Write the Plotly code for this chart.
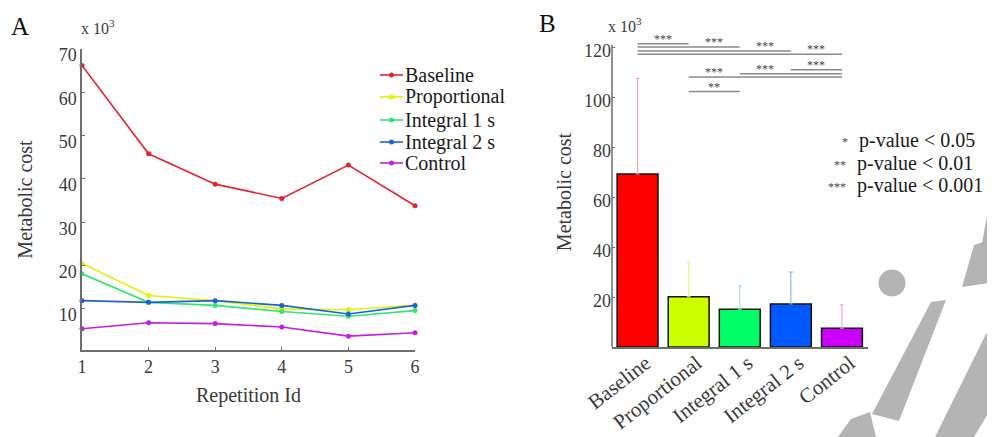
import plotly.graph_objects as go

# the page body has an 8 px margin, so the figure is drawn 8 px in from the window corner
OFF = 8
W, H = 995 - OFF, 437 - OFF

# ---------------- data ----------------
repetitions = [1, 2, 3, 4, 5, 6]
series_names = ["Baseline", "Proportional", "Integral 1 s", "Integral 2 s", "Control"]
baseline = [66.2, 45.8, 38.8, 35.5, 43.2, 33.8]
proportional = [20.5, 13.1, 11.9, 10.0, 9.8, 10.9]
integral_1s = [18.1, 11.5, 10.8, 9.4, 8.3, 9.6]
integral_2s = [11.9, 11.5, 11.9, 10.8, 8.8, 10.8]
control = [5.4, 6.8, 6.6, 5.8, 3.7, 4.5]

bar_categories = ["Baseline", "Proportional", "Integral 1 s", "Integral 2 s", "Control"]
bar_means = [69.2, 20.1, 15.1, 17.2, 7.5]
bar_errors = [38.3, 13.9, 9.3, 12.8, 9.3]

# significance comparisons: (index a, index b, label)
comparisons = [(0, 1, "***"), (0, 2, "***"), (0, 3, "***"), (0, 4, "***"),
               (3, 4, "***"), (2, 4, "***"), (1, 4, "***"), (1, 2, "**")]
comparison_levels = [121.3, 120.0, 118.4, 117.1, 110.9, 109.3, 108.0, 102.2]

pvalue_labels = ["p-value < 0.05", "p-value < 0.01", "p-value < 0.001"]
pvalue_stars = ["*", "**", "***"]

# ---------------- styles ----------------
line_colors = ["#e8232b", "#e2f200", "#2ee870", "#1c62d8", "#c21fe0"]
bar_colors = ["#ff0000", "#ccff00", "#00ff66", "#0058ff", "#cc00ff"]
err_colors = ["#f3a0a8", "#e6f07a", "#8fe8c0", "#86a8f0", "#d99ae0"]
SERIF = "Liberation Serif"
AX = "#6e6e6e"
TXT = "#3a3a3a"


def fx(x):
    return (x - OFF) / W


def fy(y):
    return 1 - (y - OFF) / H


fig = go.Figure()

# ---------------- panel A ----------------
all_series = [baseline, proportional, integral_1s, integral_2s, control]
for name, vals, col in zip(series_names, all_series, line_colors):
    fig.add_trace(go.Scatter(
        x=repetitions, y=vals, name=name, mode="lines+markers",
        line=dict(color=col, width=1.6), marker=dict(color=col, size=5),
        cliponaxis=False, showlegend=False, xaxis="x", yaxis="y"))

# ---------------- panel B ----------------
for i, (cat, m, e) in enumerate(zip(bar_categories, bar_means, bar_errors)):
    fig.add_trace(go.Bar(
        x=[cat], y=[m], width=0.8, name=cat, showlegend=False,
        marker=dict(color=bar_colors[i], line=dict(color="#111111", width=1.5)),
        error_y=dict(type="data", symmetric=False, array=[e], arrayminus=[0],
                     color=err_colors[i], thickness=1, width=2),
        xaxis="x2", yaxis="y2"))

annotations = []
for (a, b, lab), lvl in zip(comparisons, comparison_levels):
    lo, hi = min(a, b), max(a, b)
    fig.add_trace(go.Scatter(
        x=[bar_categories[lo], bar_categories[hi]], y=[lvl, lvl], mode="lines",
        line=dict(color="#8a8a8a", width=1.3), showlegend=False, hoverinfo="skip",
        xaxis="x2", yaxis="y2"))
    sx = (hi - 0.5) if lo == 0 else (lo + 0.5)
    annotations.append(dict(
        x=sx, y=lvl, xref="x2", yref="y2", text=lab, showarrow=False,
        yanchor="bottom", yshift=-4,
        font=dict(family=SERIF, size=12, color="#444444")))

# custom legend for panel A
legend_rows = [75, 97, 120, 142, 163]
shapes = []
for name, col, yy in zip(series_names, line_colors, legend_rows):
    shapes.append(dict(type="line", xref="paper", yref="paper",
                       x0=fx(380), x1=fx(403), y0=fy(yy), y1=fy(yy),
                       line=dict(color=col, width=1.6)))
    r = 2.5
    shapes.append(dict(type="circle", xref="paper", yref="paper",
                       x0=fx(391.5 - r), x1=fx(391.5 + r),
                       y0=fy(yy + r), y1=fy(yy - r),
                       fillcolor=col, line=dict(color=col, width=0)))
    annotations.append(dict(x=fx(403), y=fy(yy), xref="paper", yref="paper", text=name,
                            showarrow=False, xanchor="left", yanchor="middle",
                            font=dict(family=SERIF, size=20, color="#1a1a1a")))

# p-value key for panel B
for star, lab, yy, xr, xs in zip(pvalue_stars, pvalue_labels, [140, 163, 185],
                                 [977, 975, 985], [850, 848, 848]):
    annotations.append(dict(
        x=fx(xr), y=fy(yy), xref="paper", yref="paper", text=lab,
        showarrow=False, xanchor="right", yanchor="middle",
        font=dict(family=SERIF, size=20, color="#1a1a1a")))
    annotations.append(dict(
        x=fx(xs), y=fy(yy), xref="paper", yref="paper", text=star,
        showarrow=False, xanchor="right", yanchor="middle", yshift=-2,
        font=dict(family=SERIF, size=12, color="#444444")))

# panel letters and exponent labels
for txt, x, y in [("A", 20, 26), ("B", 547, 24)]:
    annotations.append(dict(x=fx(x), y=fy(y), xref="paper", yref="paper", text=txt,
                            showarrow=False, xanchor="center", yanchor="middle",
                            font=dict(family=SERIF, size=25, color="#111111")))
for x, y in [(79, 27), (606, 25)]:
    annotations.append(dict(x=fx(x), y=fy(y), xref="paper", yref="paper",
                            text="x 10<sup>3</sup>",
                            showarrow=False, xanchor="left", yanchor="middle",
                            font=dict(family=SERIF, size=16, color=TXT)))

# y axis line of panel B (stops at the top tick)
shapes.append(dict(type="line", xref="x2 domain", yref="y2", x0=0, x1=0, y0=0, y1=120.8,
                   line=dict(color=AX, width=1.5)))

# watermark-like grey strokes
wm = "#b4b4b4"
polys = [
    [(872, 414), (931, 302), (946, 300), (899, 421)],
    [(935, 437), (986, 334), (995, 330), (995, 402), (974, 437)],
    [(962, 287), (974, 245), (995, 238), (995, 282)],
    [(982, 243), (987, 216), (995, 206), (995, 248)],
    [(838, 437), (851, 419), (870, 412), (876, 437)],
]
for poly in polys:
    path = "M " + " L ".join(f"{fx(x):.5f},{fy(y):.5f}" for x, y in poly) + " Z"
    shapes.append(dict(type="path", xref="paper", yref="paper", path=path,
                       fillcolor=wm, line=dict(width=0), layer="below"))
shapes.append(dict(type="circle", xref="paper", yref="paper",
                   x0=fx(892 - 13.5), x1=fx(892 + 13.5),
                   y0=fy(283 + 13.5), y1=fy(283 - 13.5),
                   fillcolor=wm, line=dict(width=0), layer="below"))

tickfont = dict(family=SERIF, size=18, color=TXT)
catfont = dict(family=SERIF, size=21, color=TXT)
titlefont = dict(family=SERIF, size=20, color=TXT)

fig.update_layout(
    width=W, height=H, margin=dict(l=0, r=0, t=0, b=0),
    paper_bgcolor="white", plot_bgcolor="white",
    showlegend=False, barmode="overlay",
    xaxis=dict(domain=[fx(82), fx(415)], range=[1, 6], tickvals=repetitions,
               showline=True, linecolor=AX, linewidth=1.5, ticks="inside", ticklen=3,
               tickcolor=AX, showgrid=False, zeroline=False, tickfont=tickfont,
               title=dict(text="Repetition Id", font=titlefont, standoff=12),
               automargin=False, anchor="y"),
    yaxis=dict(domain=[fy(350), fy(49)], range=[0.5, 70],
               tickvals=[10, 20, 30, 40, 50, 60, 70], ticklabelshift=6,
               showline=True, linecolor=AX, linewidth=1.5, ticks="inside", ticklen=3,
               tickcolor=AX, showgrid=False, zeroline=False, tickfont=tickfont,
               title=dict(text="Metabolic cost", font=titlefont, standoff=21),
               automargin=False, anchor="x"),
    xaxis2=dict(domain=[fx(612), fx(867.5)], range=[-0.5, 4.5],
                categoryorder="array", categoryarray=bar_categories,
                showline=True, linecolor=AX, linewidth=1.5, ticks="", showgrid=False,
                zeroline=False, tickangle=-38, tickfont=catfont, ticklabelshift=8,
                ticklabelstandoff=-6,
                automargin=False, anchor="y2"),
    yaxis2=dict(domain=[fy(347), fy(37)], range=[0, 124],
                tickvals=[20, 40, 60, 80, 100, 120], ticklabelshift=4,
                showline=False, ticks="inside", ticklen=3, tickcolor=AX,
                showgrid=False, zeroline=False, tickfont=tickfont,
                title=dict(text="Metabolic cost", font=titlefont, standoff=7),
                automargin=False, anchor="x2"),
    annotations=annotations, shapes=shapes,
)

fig.write_html("out.html")
